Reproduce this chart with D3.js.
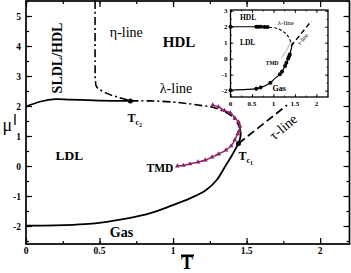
<!DOCTYPE html>
<html>
<head>
<meta charset="utf-8">
<script src="https://cdn.jsdelivr.net/npm/d3@7"></script>
<style>
  body { margin: 0; background: #fff; }
  text { font-family: "Liberation Serif", "DejaVu Serif", serif; }
</style>
</head>
<body>
<div id="chart"></div>
<script>
// main plot data
var gasT  = [0, 0.2, 0.4, 0.55, 0.7, 0.84, 0.98, 1.115, 1.22, 1.30, 1.35, 1.40, 1.445];
var gasMu = [-1.99, -1.98, -1.94, -1.86, -1.74, -1.58, -1.34, -1.08, -0.82, -0.45, -0.05, 0.35, 0.75];

var hdlT  = [0, 0.1, 0.2, 0.3, 0.5, 0.71];
var hdlMu = [1.98, 2.15, 2.23, 2.21, 2.18, 2.17];

var etaT  = [0.47, 0.47, 0.472, 0.48, 0.55, 0.63, 0.71];
var etaMu = [5.5, 3.5, 2.87, 2.64, 2.42, 2.29, 2.17];

var lamT  = [0.71, 0.85, 1.0, 1.1, 1.2, 1.27, 1.33, 1.39, 1.43, 1.455];
var lamMu = [2.17, 2.17, 2.13, 2.08, 2.01, 1.96, 1.85, 1.7, 1.5, 1.25];

var lamEndT  = [1.455, 1.46, 1.455, 1.445];
var lamEndMu = [1.25, 1.05, 0.9, 0.75];

var tmdT  = [1.27, 1.31, 1.35, 1.39, 1.42, 1.445, 1.455, 1.45, 1.44, 1.42, 1.395, 1.36, 1.31, 1.265, 1.22, 1.17, 1.115, 1.07, 1.03];
var tmdMu = [2.03, 1.97, 1.85, 1.77, 1.6, 1.47, 1.33, 1.17, 1.07, 0.87, 0.67, 0.53, 0.4, 0.3, 0.2, 0.13, 0.07, 0.02, 0.0];

var tauT  = [1.445, 1.775];
var tauMu = [0.75, 2.03];

var critT  = [0.71, 1.445];
var critMu = [2.17, 0.75];

var xTicks = [0, 0.5, 1, 1.5, 2];
var xTickLabels = ["0", "0.5", "1", "1.5", "2"];
var yTicks = [-2, -1, 0, 1, 2, 3, 4, 5];

// inset data
var inUpT  = [0, 0.6, 0.65, 0.71, 0.79, 0.86, 0.9];
var inUpMu = [2, 2, 2, 2, 1.99, 1.98, 1.97];
var inUpDotT  = [0, 0.6, 0.65, 0.71, 0.79, 0.86];
var inUpDotMu = [2, 2, 2, 2, 1.99, 1.98];

var inLamT  = [0.9, 1.05, 1.15, 1.25, 1.32, 1.38, 1.42];
var inLamMu = [1.97, 1.92, 1.83, 1.65, 1.48, 1.2, 0.95];

var inLowT  = [0, 0.6, 0.7, 0.93, 1.03, 1.15, 1.2, 1.27, 1.34, 1.38, 1.42, 1.44];
var inLowMu = [-1.97, -1.88, -1.81, -1.5, -1.25, -0.98, -0.8, -0.46, 0, 0.27, 0.69, 1.0];
var inLowDotT  = [0, 0.6, 0.7, 0.93, 1.15, 1.2, 1.27, 1.3, 1.34, 1.36, 1.38];
var inLowDotMu = [-1.97, -1.88, -1.81, -1.5, -0.98, -0.8, -0.46, -0.25, 0, 0.12, 0.27];

var inTmdT  = [1.18, 1.3, 1.4];
var inTmdMu = [0.06, 0.5, 1.1];

var inTauT  = [1.41, 1.88];
var inTauMu = [0.79, 2.35];

var inXTicks = [0, 0.5, 1, 1.5, 2];
var inYTicks = [-2, -1, 0, 1, 2, 3];

var W = 351, H = 273;
var margin = {top: 1, right: 1.5, bottom: 29, left: 26},
    width = W - margin.left - margin.right,
    height = H - margin.top - margin.bottom;

var svg = d3.select('#chart')
    .append('svg')
        .attr('width', W)
        .attr('height', H)
    .append('g')
        .attr('transform', 'translate(' + margin.left + ',' + margin.top + ')');

var x = d3.scaleLinear().domain([0, 2.2]).range([0, width]);
var y = d3.scaleLinear().domain([-2.6, 5.5]).range([height, 0]);

function pts(ts, ms) { return ts.map((t, i) => ({t: t, m: ms[i]})); }

var line = d3.line()
    .x(d => x(d.t))
    .y(d => y(d.m))
    .curve(d3.curveCatmullRom);

// ticks on all four sides, pointing inward
function frameTicks(g, xs, ys, w, h, xMaj, xMin, yMaj, yMin, len, sw) {
    var xMinor = d3.range(xMin[0], xMin[1] + 1e-9, xMin[2]);
    var yMinor = d3.range(yMin[0], yMin[1] + 1e-9, yMin[2]);
    g.append('g').call(d3.axisBottom(xs).tickValues(xMinor).tickSize(-len / 2).tickFormat(''))
        .attr('transform', 'translate(0,' + h + ')');
    g.append('g').call(d3.axisBottom(xs).tickValues(xMaj).tickSize(-len).tickFormat(''))
        .attr('transform', 'translate(0,' + h + ')');
    g.append('g').call(d3.axisTop(xs).tickValues(xMinor).tickSize(-len / 2).tickFormat(''));
    g.append('g').call(d3.axisTop(xs).tickValues(xMaj).tickSize(-len).tickFormat(''));
    g.append('g').call(d3.axisLeft(ys).tickValues(yMinor).tickSize(-len / 2).tickFormat(''));
    g.append('g').call(d3.axisLeft(ys).tickValues(yMaj).tickSize(-len).tickFormat(''));
    g.append('g').call(d3.axisRight(ys).tickValues(yMinor).tickSize(-len / 2).tickFormat(''))
        .attr('transform', 'translate(' + w + ',0)');
    g.append('g').call(d3.axisRight(ys).tickValues(yMaj).tickSize(-len).tickFormat(''))
        .attr('transform', 'translate(' + w + ',0)');
    g.selectAll('.domain').remove();
    g.selectAll('.tick line').attr('stroke', '#000').attr('stroke-width', sw);
    g.append('rect')
        .attr('width', w).attr('height', h)
        .attr('fill', 'none').attr('stroke', '#000').attr('stroke-width', sw + 0.5);
}

// curves
svg.append('path').datum(pts(gasT, gasMu)).attr('d', line)
    .attr('fill', 'none').attr('stroke', '#000').attr('stroke-width', 1.8);
svg.append('path').datum(pts(hdlT, hdlMu)).attr('d', line)
    .attr('fill', 'none').attr('stroke', '#000').attr('stroke-width', 1.8);
svg.append('path').datum(pts(etaT, etaMu)).attr('d', line)
    .attr('fill', 'none').attr('stroke', '#000').attr('stroke-width', 1.6)
    .attr('stroke-dasharray', '8,3,2,3');
svg.append('path').datum(pts(lamT, lamMu)).attr('d', line)
    .attr('fill', 'none').attr('stroke', '#000').attr('stroke-width', 1.6)
    .attr('stroke-dasharray', '8,3,2,3');
svg.append('path').datum(pts(lamEndT, lamEndMu)).attr('d', line)
    .attr('fill', 'none').attr('stroke', '#000').attr('stroke-width', 1.8);
svg.append('path').datum(pts(tauT, tauMu)).attr('d', line)
    .attr('fill', 'none').attr('stroke', '#000').attr('stroke-width', 1.8)
    .attr('stroke-dasharray', '8,4');

var tmdColor = '#8a2468';
svg.append('path').datum(pts(tmdT, tmdMu)).attr('d', line)
    .attr('fill', 'none').attr('stroke', tmdColor).attr('stroke-width', 1.4);
svg.append('g').selectAll('path')
    .data(pts(tmdT, tmdMu))
    .enter()
    .append('path')
    .attr('d', d3.symbol().type(d3.symbolTriangle).size(10))
    .attr('transform', d => 'translate(' + x(d.t) + ',' + y(d.m) + ')')
    .attr('fill', tmdColor);

svg.append('g').selectAll('circle')
    .data(pts(critT, critMu))
    .enter()
    .append('circle')
    .attr('cx', d => x(d.t))
    .attr('cy', d => y(d.m))
    .attr('r', 2.5)
    .attr('fill', '#000');

// main frame and tick labels
frameTicks(svg.append('g'), x, y, width, height, xTicks, [0, 2.2, 0.25], yTicks, [-2.5, 5.5, 0.5], 6, 1.2);

svg.append('g').selectAll('text')
    .data(xTicks)
    .enter()
    .append('text')
    .attr('x', d => x(d))
    .attr('y', height + 10)
    .attr('text-anchor', 'middle')
    .attr('font-size', 9.5)
    .attr('font-weight', 'bold')
    .text((d, i) => xTickLabels[i]);

svg.append('g').selectAll('text')
    .data(yTicks)
    .enter()
    .append('text')
    .attr('x', -5)
    .attr('y', d => y(d) + 3.5)
    .attr('text-anchor', 'end')
    .attr('font-size', 9.5)
    .attr('font-weight', 'bold')
    .text(d => d);

// axis titles
svg.append('text')
    .attr('x', 161).attr('y', 267.5)
    .attr('text-anchor', 'middle')
    .attr('font-size', 18).attr('font-weight', 'bold')
    .text('T');
svg.append('line')
    .attr('x1', 155).attr('x2', 168).attr('y1', 254.5).attr('y2', 254.5)
    .attr('stroke', '#000').attr('stroke-width', 2);

svg.append('text')
    .attr('x', -23.5).attr('y', 130)
    .attr('font-size', 18)
    .text('μ');
svg.append('line')
    .attr('x1', -11).attr('x2', -11).attr('y1', 113).attr('y2', 124)
    .attr('stroke', '#000').attr('stroke-width', 1.3);

// annotations
function label(t, m, txt, size, bold, rot) {
    var tx = svg.append('text')
        .attr('transform', 'translate(' + x(t) + ',' + y(m) + ')' + (rot ? ' rotate(' + rot + ')' : ''))
        .attr('font-size', size)
        .attr('font-weight', bold ? 'bold' : 'normal')
        .text(txt);
    return tx;
}
label(0.21, 3.6, 'SLDL/HDL', 14, true, -90).attr('text-anchor', 'middle').attr('dy', 5);
label(0.57, 4.3, 'η-line', 14, false);
label(0.93, 3.98, 'HDL', 15, true);
label(0.91, 2.43, 'λ-line', 14, false);
label(0.2, 0.2, 'LDL', 13.5, true);
label(0.82, -0.2, 'TMD', 11.5, true);
label(0.57, -2.37, 'Gas', 14, true);
label(1.77, 1.18, 'τ-line', 14, false, -40).attr('text-anchor', 'middle');

function critLabel(t, m, sub) {
    var tx = label(t, m, 'T', 12, true);
    tx.append('tspan').attr('font-size', 8).attr('dy', 3).text('c');
    tx.append('tspan').attr('font-size', 6).attr('dy', 2).text(sub);
}
critLabel(0.69, 1.47, '2');
critLabel(1.445, 0.2, '1');

// inset
var inL = 230.5 - margin.left, inT = 10 - margin.top, inW = 97.5, inH = 87;
var inset = svg.append('g').attr('transform', 'translate(' + inL + ',' + inT + ')');
inset.append('rect').attr('width', inW).attr('height', inH).attr('fill', '#fff');

var xi = d3.scaleLinear().domain([0, 2.27]).range([0, inW]);
var yi = d3.scaleLinear().domain([-2.4, 3.05]).range([inH, 0]);
var linei = d3.line().x(d => xi(d.t)).y(d => yi(d.m)).curve(d3.curveCatmullRom);

inset.append('path').datum(pts(inTmdT, inTmdMu)).attr('d', linei)
    .attr('fill', 'none').attr('stroke', '#cfcfcf').attr('stroke-width', 1.5);
inset.append('path').datum(pts(inUpT, inUpMu)).attr('d', linei)
    .attr('fill', 'none').attr('stroke', '#000').attr('stroke-width', 1.2);
inset.append('path').datum(pts(inLamT, inLamMu)).attr('d', linei)
    .attr('fill', 'none').attr('stroke', '#000').attr('stroke-width', 1.1)
    .attr('stroke-dasharray', '3,2');
inset.append('path').datum(pts(inLowT, inLowMu)).attr('d', linei)
    .attr('fill', 'none').attr('stroke', '#000').attr('stroke-width', 1.2);
inset.append('path').datum(pts(inTauT, inTauMu)).attr('d', linei)
    .attr('fill', 'none').attr('stroke', '#000').attr('stroke-width', 1.4)
    .attr('stroke-dasharray', '5,3');
inset.append('g').selectAll('circle')
    .data(pts(inUpDotT, inUpDotMu).concat(pts(inLowDotT, inLowDotMu)))
    .enter()
    .append('circle')
    .attr('cx', d => xi(d.t))
    .attr('cy', d => yi(d.m))
    .attr('r', 2)
    .attr('fill', '#000');

frameTicks(inset.append('g'), xi, yi, inW, inH, inXTicks, [0, 2.25, 0.25], inYTicks, [-2, 3, 0.5], 3, 0.8);

inset.append('g').selectAll('text')
    .data(inXTicks)
    .enter()
    .append('text')
    .attr('x', d => xi(d))
    .attr('y', inH + 9)
    .attr('text-anchor', 'middle')
    .attr('font-size', 7)
    .attr('font-weight', 'bold')
    .text((d, i) => xTickLabels[i]);
inset.append('g').selectAll('text')
    .data(inYTicks)
    .enter()
    .append('text')
    .attr('x', -3)
    .attr('y', d => yi(d) + 2.5)
    .attr('text-anchor', 'end')
    .attr('font-size', 7)
    .attr('font-weight', 'bold')
    .text(d => d);

function ilabel(t, m, txt, size, bold, rot) {
    return inset.append('text')
        .attr('transform', 'translate(' + xi(t) + ',' + yi(m) + ')' + (rot ? ' rotate(' + rot + ')' : ''))
        .attr('font-size', size)
        .attr('font-weight', bold ? 'bold' : 'normal')
        .text(txt);
}
ilabel(0.22, 2.4, 'HDL', 7.5, true);
ilabel(1.1, 2.1, 'λ-line', 7, false);
ilabel(0.22, 0.85, 'LDL', 7.5, true);
ilabel(0.82, -0.4, 'TMD', 5.5, true);
ilabel(0.98, -2.05, 'Gas', 8, true);
ilabel(1.72, 1.15, 'τ-line', 6, false, -50).attr('text-anchor', 'middle');
</script>
</body>
</html>
